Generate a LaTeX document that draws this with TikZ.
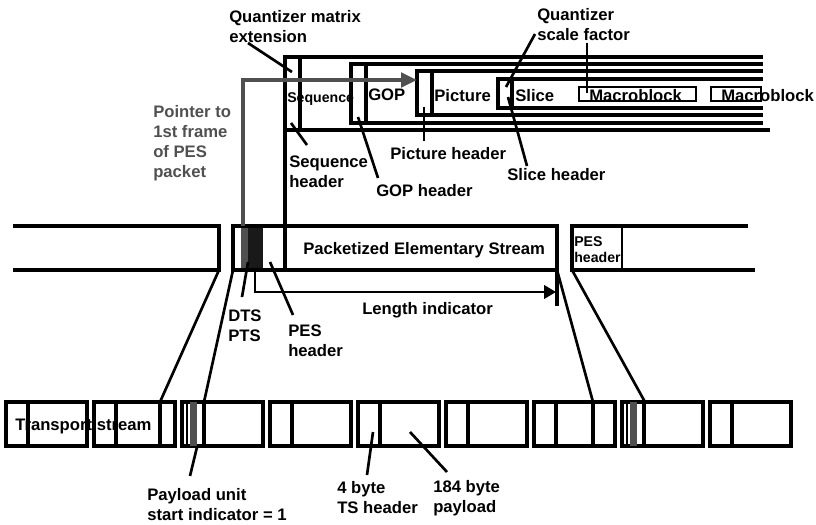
\documentclass[tikz,border=0pt]{standalone}
\usepackage{fontspec}
\setmainfont{Liberation Sans}
\usetikzlibrary{arrows.meta}
\definecolor{ptrgray}{RGB}{80,80,80}
\definecolor{dtsblack}{RGB}{25,25,25}

\begin{document}
\begin{tikzpicture}[
        x=0.75pt, y=-0.75pt,
        bar/.style={line width=2.4pt},
        lead/.style={line width=2pt},
        thinbox/.style={line width=1pt},
        lbl/.style={font=\fontsize{12.5}{15}\selectfont\bfseries, align=left, inner sep=0pt, anchor=north west},
        smalllbl/.style={lbl, font=\fontsize{10.6}{12}\selectfont\bfseries},
        ptrarrow/.style={-{Triangle[length=12pt, width=11pt]}, line width=2.4pt, draw=ptrgray}
    ]
        \useasboundingbox (0,0) rectangle (816,524);

        % Sequence / GOP / Picture / Slice layers
        \draw[bar] (763,57) -- (285,57) -- (285,270);
        \draw[bar] (285,130) -- (770,130);
        \draw[bar] (300,57) -- (300,130);
        \draw[bar] (763,64) -- (351,64) -- (351,123) -- (763,123);
        \draw[bar] (366,64) -- (366,123);
        \draw[bar] (763,71) -- (417,71) -- (417,115) -- (763,115);
        \draw[bar] (432,71) -- (432,115);
        \draw[bar] (763,79) -- (498,79) -- (498,108) -- (763,108);
        \draw[bar] (512,79) -- (512,108);
        \draw[thinbox] (579,87) rectangle (696,101);
        \draw[thinbox] (711,87) rectangle (761,101);

        \node[smalllbl] (SEQ) at (287,92) {Sequence};
        \node[lbl] (GOP) at (368,89) {GOP};
        \node[lbl] (PIC) at (434,89) {Picture};
        \node[lbl] (SLC) at (515,89) {Slice};
        \node[lbl] (MB1) at (589,89) {Macroblock};
        \node[lbl] (MB2) at (721,89) {Macroblock};

        % PES row
        \draw[bar] (13,226) -- (219,226) -- (219,270) -- (13,270);
        \fill[ptrgray] (241,226) rectangle (248,270);
        \fill[dtsblack] (248,226) rectangle (263,270);
        \draw[bar] (233,226) rectangle (557,270);
        \draw[bar] (557,270) -- (557,306);
        \draw[bar] (748,226) -- (572,226) -- (572,270) -- (755,270);
        \draw[line width=1.2pt] (622,226) -- (622,270);
        \node[lbl] (PES) at (303,242) {Packetized Elementary Stream};
        \node[smalllbl] (PESR) at (574,236) {PES\\header};

        % Pointer to first frame
        \draw[ptrarrow] (243,226) -- (243,80) -- (417,80);
        \node[lbl, text=ptrgray] (PTR) at (153,105) {Pointer to\\1st frame\\of PES\\packet};

        % Length indicator
        \draw[line width=2.2pt, -{Triangle[length=9pt, width=10pt]}] (255,270) -- (255,292) -- (556,292);
        \node[lbl] (LEN) at (362,302) {Length indicator};

        % Transport stream packets
        \foreach \i in {0,...,8} {
            \draw[bar] ({6+88*\i},402) rectangle ++(81,44);
            \draw[bar] ({28+88*\i},402) -- ++(0,44);
        }
        \draw[bar] (160,402) -- (160,446);
        \draw[bar] (593,402) -- (593,446);
        \fill[ptrgray] (190,402) rectangle (197,446);
        \fill[ptrgray] (630,402) rectangle (637,446);
        \draw[line width=1.2pt] (187,402) -- (187,446);
        \draw[line width=1.2pt] (627,402) -- (627,446);
        \node[lbl] (TS) at (15,419) {Transport stream};

        % PES packet mapped onto TS packets
        \draw[lead] (219,270) -- (160,402);
        \draw[lead] (233,270) -- (204,402);
        \draw[lead] (557,270) -- (593,402);
        \draw[lead] (572,270) -- (645,402);

        % Labels
        \node[lbl] (QMX) at (229,10) {Quantizer matrix\\extension};
        \node[lbl] (QSF) at (537,8) {Quantizer\\scale factor};
        \node[lbl] (SEQH) at (289,156) {Sequence\\header};
        \node[lbl] (GOPH) at (376,184) {GOP header};
        \node[lbl] (PICH) at (390,147) {Picture header};
        \node[lbl] (SLCH) at (507,168) {Slice header};
        \node[lbl] (DTS) at (228,310) {DTS\\PTS};
        \node[lbl] (PESH) at (288,325) {PES\\header};
        \node[lbl] (PUSI) at (147,488) {Payload unit\\start indicator = 1};
        \node[lbl] (TSH) at (337,481) {4 byte\\TS header};
        \node[lbl] (PAY) at (433,480) {184 byte\\payload};

        % Leader lines
        \coordinate (qmxA) at (248,43);   \coordinate (qmxB) at (292,72);
        \coordinate (qsfA) at (535,34);   \coordinate (qsfB) at (506,87);
        \coordinate (qsfC) at (587,43);   \coordinate (qsfD) at (587,93);
        \coordinate (seqA) at (291,123);  \coordinate (seqB) at (307,145);
        \coordinate (gopA) at (358,117);  \coordinate (gopB) at (378,178);
        \coordinate (picA) at (424,107);  \coordinate (picB) at (424,141);
        \coordinate (slcA) at (508,97);   \coordinate (slcB) at (527,166);
        \coordinate (dtsA) at (248,262);  \coordinate (dtsB) at (242,297);
        \coordinate (peshA) at (270,262); \coordinate (peshB) at (293,315);
        \coordinate (pusiA) at (197,447); \coordinate (pusiB) at (190,476);
        \coordinate (tshA) at (373,432);  \coordinate (tshB) at (367,475);
        \coordinate (payA) at (410,432);  \coordinate (payB) at (447,472);
        \draw[lead] (qmxA) -- (qmxB);
        \draw[lead] (qsfA) -- (qsfB);
        \draw[lead] (qsfC) -- (qsfD);
        \draw[lead] (seqA) -- (seqB);
        \draw[lead] (gopA) -- (gopB);
        \draw[lead] (picA) -- (picB);
        \draw[lead] (slcA) -- (slcB);
        \draw[lead] (dtsA) -- (dtsB);
        \draw[lead] (peshA) -- (peshB);
        \draw[lead] (pusiA) -- (pusiB);
        \draw[lead] (tshA) -- (tshB);
        \draw[lead] (payA) -- (payB);
    \end{tikzpicture}
\end{document}
